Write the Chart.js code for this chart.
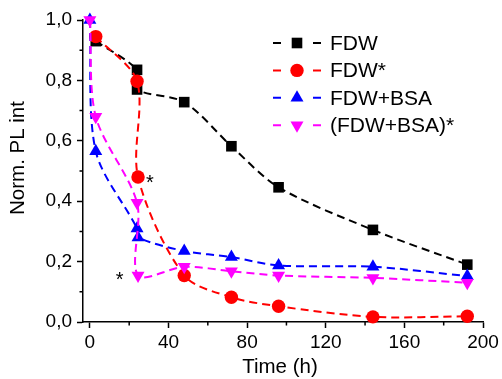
<!DOCTYPE html>
<html>
<head>
<meta charset="utf-8">
<script src="https://cdn.jsdelivr.net/npm/chart.js@4.4.1/dist/chart.umd.min.js"></script>
<style>
  html, body { margin: 0; padding: 0; background: #fff; }
  canvas { display: block; }
</style>
</head>
<body>
<canvas id="plChart" width="502" height="379"></canvas>
<script>
// values
const seriesLabels = ['FDW', 'FDW*', 'FDW+BSA', '(FDW+BSA)*'];

const timeFdw = [3, 24, 24, 48, 72, 96, 144, 192];
const plFdw = [0.93, 0.835, 0.77, 0.728, 0.582, 0.446, 0.305, 0.19];

const timeFdwStar = [3, 24, 24.5, 48, 72, 96, 144, 192];
const plFdwStar = [0.945, 0.797, 0.48, 0.154, 0.082, 0.052, 0.017, 0.019];

const timeBsa = [0, 3, 24, 24.5, 48, 72, 96, 144, 192];
const plBsa = [1.0, 0.565, 0.31, 0.28, 0.235, 0.215, 0.187, 0.183, 0.152];

const timeBsaStar = [0, 3, 24, 24.5, 48, 72, 96, 144, 192];
const plBsaStar = [1.0, 0.68, 0.395, 0.154, 0.183, 0.168, 0.154, 0.146, 0.13];

const xTicks = [0, 40, 80, 120, 160, 200];
const xMinorTicks = [20, 60, 100, 140, 180];
const yTicks = [0, 0.2, 0.4, 0.6, 0.8, 1.0];
const yMinorTicks = [0.1, 0.3, 0.5, 0.7, 0.9];

// asterisks marking single points
const starTimes = [30.5, 15.2];
const starValues = [0.478, 0.157];

const FONT = '"Liberation Sans", Arial, sans-serif';

function toPoints(xs, ys) {
    return xs.map((x, i) => ({ x: x, y: ys[i] }));
}

function drawMarker(ctx, style, rotation, r, x, y, color) {
    ctx.save();
    ctx.fillStyle = color;
    ctx.beginPath();
    if (style === 'rect') {
        const s = Math.SQRT1_2 * r;
        ctx.rect(x - s, y - s, 2 * s, 2 * s);
    } else if (style === 'circle') {
        ctx.arc(x, y, r, 0, Math.PI * 2);
    } else {
        let a = rotation * Math.PI / 180;
        ctx.moveTo(x + Math.sin(a) * r, y - Math.cos(a) * r);
        a += 2 * Math.PI / 3;
        ctx.lineTo(x + Math.sin(a) * r, y - Math.cos(a) * r);
        a += 2 * Math.PI / 3;
        ctx.lineTo(x + Math.sin(a) * r, y - Math.cos(a) * r);
        ctx.closePath();
    }
    ctx.fill();
    ctx.restore();
}

const decorPlugin = {
    id: 'decor',
    afterDraw(chart) {
        const ctx = chart.ctx;
        const xs = chart.scales.x;
        const ys = chart.scales.y;
        ctx.save();

        // minor ticks
        ctx.strokeStyle = '#000';
        ctx.lineWidth = 1.5;
        ctx.beginPath();
        xMinorTicks.forEach(v => {
            const px = xs.getPixelForValue(v);
            ctx.moveTo(px, ys.bottom);
            ctx.lineTo(px, ys.bottom + 3.5);
        });
        yMinorTicks.forEach(v => {
            const py = ys.getPixelForValue(v);
            ctx.moveTo(xs.left, py);
            ctx.lineTo(xs.left - 3.5, py);
        });
        ctx.stroke();

        // axis titles
        ctx.fillStyle = '#000';
        ctx.font = '20.5px ' + FONT;
        ctx.textAlign = 'center';
        ctx.textBaseline = 'middle';
        ctx.fillText('Time (h)', 280, 367);
        ctx.save();
        ctx.translate(18, 158);
        ctx.rotate(-Math.PI / 2);
        ctx.fillText('Norm. PL int', 0, 0);
        ctx.restore();

        // asterisks
        ctx.font = '20px ' + FONT;
        ctx.textBaseline = 'alphabetic';
        starTimes.forEach((t, i) => {
            ctx.fillText('*', xs.getPixelForValue(t), ys.getPixelForValue(starValues[i]) + 11);
        });

        // legend
        ctx.font = '21px ' + FONT;
        ctx.textAlign = 'left';
        ctx.textBaseline = 'middle';
        chart.data.datasets.forEach((ds, i) => {
            const y = 43 + i * 27.4;
            ctx.strokeStyle = ds.borderColor;
            ctx.lineWidth = 2;
            ctx.beginPath();
            ctx.moveTo(273, y); ctx.lineTo(281, y);
            ctx.moveTo(313, y); ctx.lineTo(321, y);
            ctx.stroke();
            drawMarker(ctx, ds.pointStyle, ds.pointRotation || 0, ds.pointRadius, 297, y, ds.borderColor);
            ctx.fillStyle = '#000';
            ctx.fillText(ds.label, 330, y + 1);
        });
        ctx.restore();
    }
};

function lineSet(label, xs, ys, color, style, radius, rotation, order) {
    return {
        label: label,
        data: toPoints(xs, ys),
        borderColor: color,
        backgroundColor: color,
        pointBackgroundColor: color,
        pointBorderColor: color,
        pointBorderWidth: 0,
        borderWidth: 2,
        borderDash: [8, 5],
        tension: 0.3,
        pointStyle: style,
        pointRadius: radius,
        pointRotation: rotation,
        clip: false,
        order: order
    };
}

new Chart(document.getElementById('plChart'), {
    type: 'line',
    data: {
        datasets: [
            lineSet(seriesLabels[0], timeFdw, plFdw, '#000000', 'rect', 7.5, 0, 3),
            lineSet(seriesLabels[1], timeFdwStar, plFdwStar, '#ff0000', 'circle', 6.7, 0, 2),
            lineSet(seriesLabels[2], timeBsa, plBsa, '#0000ff', 'triangle', 7.5, 0, 1),
            lineSet(seriesLabels[3], timeBsaStar, plBsaStar, '#ff00ff', 'triangle', 7.5, 180, 0)
        ]
    },
    options: {
        responsive: false,
        animation: false,
        layout: { padding: { top: 20, right: 19, left: 0, bottom: 0 } },
        plugins: {
            legend: { display: false },
            tooltip: { enabled: false }
        },
        scales: {
            x: {
                type: 'linear',
                min: -3.5,
                max: 200,
                afterBuildTicks: scale => { scale.ticks = xTicks.map(v => ({ value: v })); },
                afterFit: scale => { scale.height = 57; },
                border: { display: true, color: '#000', width: 1.5 },
                grid: { drawOnChartArea: false, drawTicks: true, tickLength: 6, tickWidth: 1.5, tickColor: '#000' },
                ticks: {
                    color: '#000',
                    padding: 3,
                    maxRotation: 0,
                    font: { family: FONT, size: 19 },
                    callback: v => String(v)
                }
            },
            y: {
                type: 'linear',
                min: 0,
                max: 1.0,
                afterBuildTicks: scale => { scale.ticks = yTicks.map(v => ({ value: v })); },
                afterFit: scale => { scale.width = 83; },
                border: { display: true, color: '#000', width: 1.5 },
                grid: { drawOnChartArea: false, drawTicks: true, tickLength: 6, tickWidth: 1.5, tickColor: '#000' },
                ticks: {
                    color: '#000',
                    padding: 5,
                    font: { family: FONT, size: 19 },
                    callback: v => v.toFixed(1).replace('.', ',')
                }
            }
        }
    },
    plugins: [decorPlugin]
});
</script>
</body>
</html>
